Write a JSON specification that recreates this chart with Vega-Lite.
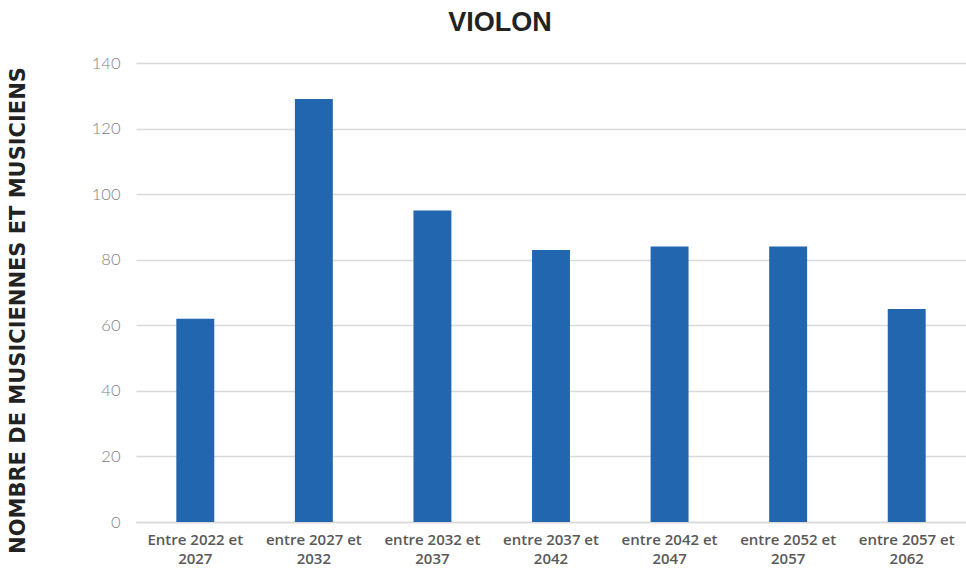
{
  "$schema": "https://vega.github.io/schema/vega-lite/v6.json",
  "autosize": "none",
  "width": 830,
  "height": 459,
  "padding": {"left": 136, "top": 63, "right": 0, "bottom": 47},
  "background": "white",
  "title": {
    "text": "VIOLON",
    "font": "Liberation Sans",
    "fontSize": 27,
    "fontWeight": "bold",
    "color": "#222222",
    "anchor": "middle",
    "frame": "group",
    "dx": -51,
    "baseline": "alphabetic",
    "offset": -3
  },
  "data": {
    "values": [
      {"periode": "Entre 2022 et 2027", "valeur": 62},
      {"periode": "entre 2027 et 2032", "valeur": 129},
      {"periode": "entre 2032 et 2037", "valeur": 95},
      {"periode": "entre 2037 et 2042", "valeur": 83},
      {"periode": "entre 2042 et 2047", "valeur": 84},
      {"periode": "entre 2052 et 2057", "valeur": 84},
      {"periode": "entre 2057 et 2062", "valeur": 65}
    ]
  },
  "mark": {"type": "bar", "color": "#2366B0"},
  "encoding": {
    "x": {
      "field": "periode",
      "type": "nominal",
      "sort": null,
      "scale": {"paddingInner": 0.68, "paddingOuter": 0.34},
      "axis": {
        "title": null,
        "labelAngle": 0,
        "labelExpr": "[slice(datum.label,0,13), slice(datum.label,14)]",
        "labelFont": "Open Sans",
        "labelFontSize": 15,
        "labelFontWeight": 600,
        "labelColor": "#595959",
        "labelLineHeight": 19,
        "labelPadding": 10,
        "labelBaseline": "top",
        "ticks": false,
        "domainColor": "#d9d9d9",
        "domainWidth": 1.5
      }
    },
    "y": {
      "field": "valeur",
      "type": "quantitative",
      "scale": {"domain": [0, 140]},
      "axis": {
        "values": [0, 20, 40, 60, 80, 100, 120, 140],
        "title": "NOMBRE DE MUSICIENNES ET MUSICIENS",
        "titleFont": "DejaVu Sans",
        "titleFontSize": 21,
        "titleFontWeight": "bold",
        "titleColor": "#222222",
        "titleAngle": -90,
        "titleAlign": "center",
        "titleBaseline": "middle",
        "titleX": -118,
        "titleY": 247,
        "labelFont": "Lato",
        "labelFontSize": 16.5,
        "labelFontWeight": 300,
        "labelColor": "#7f7f7f",
        "labelPadding": 16,
        "ticks": false,
        "domain": false,
        "grid": true,
        "gridColor": "#d9d9d9",
        "gridWidth": 1.5
      }
    }
  },
  "config": {"view": {"stroke": null}}
}
